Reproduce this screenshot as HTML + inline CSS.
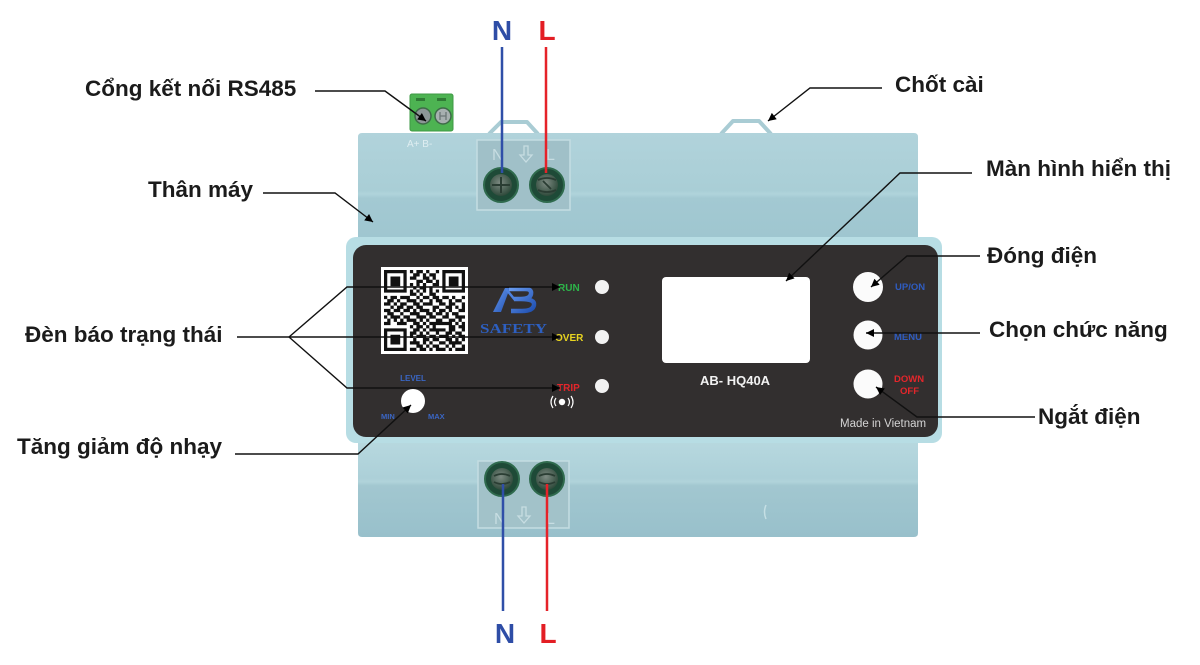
<!DOCTYPE html>
<html><head><meta charset="utf-8"><style>
html,body{margin:0;padding:0;background:#fff;}
svg{display:block;}
.lbl{font-family:"Liberation Sans",Arial,sans-serif;font-weight:bold;font-size:22.5px;fill:#1b1b1b;}
.b{font-family:"Liberation Sans",Arial,sans-serif;font-weight:bold;}
</style></head><body>
<svg width="1200" height="665" viewBox="0 0 1200 665" xmlns="http://www.w3.org/2000/svg">
<defs>
<marker id="ar" viewBox="0 0 10 10" refX="10" refY="5" markerWidth="10" markerHeight="8" markerUnits="userSpaceOnUse" orient="auto">
<path d="M0 0 L10 5 L0 10 z" fill="#000"/></marker>
<linearGradient id="up" x1="0" y1="0" x2="0" y2="1">
<stop offset="0" stop-color="#b1d3db"/><stop offset="0.55" stop-color="#a9ced6"/><stop offset="0.58" stop-color="#b0d4db"/><stop offset="0.62" stop-color="#a3c9d2"/><stop offset="1" stop-color="#9fc6d0"/></linearGradient>
<linearGradient id="lo" x1="0" y1="0" x2="0" y2="1">
<stop offset="0" stop-color="#b7d8df"/><stop offset="0.38" stop-color="#acd0d8"/><stop offset="0.42" stop-color="#b0d3da"/><stop offset="0.46" stop-color="#a2c7d0"/><stop offset="1" stop-color="#98c0cb"/></linearGradient>
<linearGradient id="logo" x1="0" y1="0" x2="1" y2="1">
<stop offset="0" stop-color="#6a9cf0"/><stop offset="1" stop-color="#1f4fb0"/></linearGradient>
<radialGradient id="scr" cx="0.45" cy="0.4" r="0.6">
<stop offset="0" stop-color="#7d8a82"/><stop offset="1" stop-color="#2f4a3b"/></radialGradient>
</defs>
<rect width="1200" height="665" fill="#fff"/>

<!-- latches -->
<path d="M489 134 L501 122 L527 122 L538 134" fill="none" stroke="#a9ccd4" stroke-width="4" stroke-linejoin="round"/>
<path d="M721 134 L733 121 L759 121 L771 134" fill="none" stroke="#a9ccd4" stroke-width="4" stroke-linejoin="round"/>

<!-- RS485 connector -->
<rect x="410" y="94" width="43" height="37" rx="2" fill="#4db352"/>
<rect x="410" y="94" width="43" height="37" rx="2" fill="none" stroke="#3e9944" stroke-width="1"/>
<rect x="416" y="98" width="9" height="3" fill="#2f7a35"/>
<rect x="437" y="98" width="9" height="3" fill="#2f7a35"/>
<circle cx="423" cy="116" r="8" fill="#8c9696" stroke="#3e6b48" stroke-width="1.5"/>
<circle cx="443" cy="116" r="8" fill="#a7b0b0" stroke="#3e6b48" stroke-width="1.5"/>
<path d="M440 112 v8 M446 112 v8 M440 116 h6" stroke="#6b7676" stroke-width="1.3"/>

<!-- upper housing -->
<path d="M358 137 Q358 133 362 133 L914 133 Q918 133 918 137 L918 238 L358 238 Z" fill="url(#up)"/>
<text x="407" y="147" font-family="Liberation Sans,Arial,sans-serif" font-size="10" fill="#dfeef1">A+ B-</text>
<!-- top terminal recess -->
<rect x="477" y="140" width="93" height="70" fill="#a0c0c8" stroke="#c4dde2" stroke-width="1.5"/>
<text x="492" y="160" font-family="Liberation Sans,Arial,sans-serif" font-size="16" fill="#c7dde2">N</text>
<text x="546" y="160" font-family="Liberation Sans,Arial,sans-serif" font-size="16" fill="#c7dde2">L</text>
<path d="M524 146 v9 h-4 l6 7 l6 -7 h-4 v-9 z" fill="none" stroke="#c7dde2" stroke-width="1.3"/>
<circle cx="501" cy="185" r="17" fill="#1e4a37" stroke="#2f6a4d" stroke-width="2"/>
<circle cx="501" cy="185" r="11" fill="url(#scr)"/>
<path d="M492 185 h18 M501 177 v16" stroke="#2a3d33" stroke-width="2"/>
<circle cx="547" cy="185" r="17" fill="#1e4a37" stroke="#2f6a4d" stroke-width="2"/>
<circle cx="547" cy="185" r="11" fill="url(#scr)"/>
<path d="M538 180 q9 -4 18 0 M538 190 q9 4 18 0 M543 181 l8 8" stroke="#2a3d33" stroke-width="1.8" fill="none"/>

<!-- lower housing -->
<path d="M358 442 L918 442 L918 533 Q918 537 914 537 L362 537 Q358 537 358 533 Z" fill="url(#lo)"/>
<path d="M766 505 q-3 7 0 14" stroke="#c5dfe4" stroke-width="1.5" fill="none"/>
<rect x="478" y="461" width="91" height="67" fill="#a2c2c9" stroke="#c4dde2" stroke-width="1.5"/>
<text x="494" y="524" font-family="Liberation Sans,Arial,sans-serif" font-size="16" fill="#c7dde2">N</text>
<text x="546" y="524" font-family="Liberation Sans,Arial,sans-serif" font-size="16" fill="#c7dde2">L</text>
<path d="M522 507 v9 h-4 l6 7 l6 -7 h-4 v-9 z" fill="none" stroke="#c7dde2" stroke-width="1.3"/>
<circle cx="502" cy="479" r="17" fill="#1e4a37" stroke="#2f6a4d" stroke-width="2"/>
<circle cx="502" cy="479" r="11" fill="url(#scr)"/>
<path d="M494 476 q8 -4 16 0 M494 482 q8 4 16 0" stroke="#2a3d33" stroke-width="1.8" fill="none"/>
<circle cx="547" cy="479" r="17" fill="#1e4a37" stroke="#2f6a4d" stroke-width="2"/>
<circle cx="547" cy="479" r="11" fill="url(#scr)"/>
<path d="M539 476 q8 -4 16 0 M539 482 q8 4 16 0" stroke="#2a3d33" stroke-width="1.8" fill="none"/>

<!-- front frame + panel -->
<rect x="346" y="237" width="596" height="206" rx="10" fill="#b7dde4"/>
<rect x="353" y="245" width="585" height="192" rx="13" fill="#322f2f"/>

<!-- QR -->
<rect x="381" y="267" width="87" height="87" fill="#fff"/>
<g transform="translate(384,270) scale(3.24)">
<path fill="none" stroke="#111" stroke-width="1" d="
M0 0.5h7M8 0.5h1M10 0.5h2M13 0.5h1M16 0.5h1M18 0.5h7
M0 1.5h1M6 1.5h1M9 1.5h2M12 1.5h1M14 1.5h2M18 1.5h1M24 1.5h1
M0 2.5h1M2 2.5h3M6 2.5h1M8 2.5h2M12 2.5h2M15 2.5h1M18 2.5h1M20 2.5h3M24 2.5h1
M0 3.5h1M2 3.5h3M6 3.5h1M10 3.5h2M13 3.5h2M16 3.5h1M18 3.5h1M20 3.5h3M24 3.5h1
M0 4.5h1M2 4.5h3M6 4.5h1M8 4.5h1M10 4.5h1M12 4.5h1M15 4.5h2M18 4.5h1M20 4.5h3M24 4.5h1
M0 5.5h1M6 5.5h1M9 5.5h1M11 5.5h2M14 5.5h1M18 5.5h1M24 5.5h1
M0 6.5h7M8 6.5h1M10 6.5h1M12 6.5h1M14 6.5h1M16 6.5h1M18 6.5h7
M8 7.5h2M11 7.5h1M14 7.5h2
M0 8.5h1M2 8.5h2M5 8.5h3M10 8.5h1M12 8.5h2M15 8.5h2M18 8.5h2M21 8.5h1M24 8.5h1
M1 9.5h2M4 9.5h1M7 9.5h3M11 9.5h1M14 9.5h1M16 9.5h2M20 9.5h1M22 9.5h2
M0 10.5h2M3 10.5h1M5 10.5h2M9 10.5h2M12 10.5h3M17 10.5h2M20 10.5h2M24 10.5h1
M2 11.5h1M4 11.5h2M7 11.5h2M10 11.5h2M15 11.5h2M19 11.5h2M22 11.5h1M24 11.5h1
M0 12.5h2M3 12.5h2M6 12.5h2M9 12.5h1M11 12.5h3M15 12.5h1M17 12.5h2M20 12.5h1M23 12.5h2
M1 13.5h2M5 13.5h1M8 13.5h3M13 13.5h2M16 13.5h2M19 13.5h1M21 13.5h2
M0 14.5h1M2 14.5h3M6 14.5h2M10 14.5h3M14 14.5h2M18 14.5h2M22 14.5h3
M1 15.5h1M3 15.5h1M5 15.5h1M7 15.5h3M11 15.5h1M13 15.5h1M16 15.5h2M20 15.5h2M23 15.5h1
M0 16.5h2M4 16.5h3M9 16.5h2M12 16.5h1M14 16.5h7M22 16.5h1M24 16.5h1
M8 17.5h1M10 17.5h2M13 17.5h1M15 17.5h1M20 17.5h2M23 17.5h2
M0 18.5h7M9 18.5h2M12 18.5h1M14 18.5h5M20 18.5h2M24 18.5h1
M0 19.5h1M6 19.5h1M8 19.5h2M11 19.5h1M13 19.5h1M16 19.5h1M19 19.5h2M22 19.5h2
M0 20.5h1M2 20.5h3M6 20.5h1M8 20.5h1M10 20.5h3M14 20.5h2M17 20.5h3M21 20.5h1M23 20.5h2
M0 21.5h1M2 21.5h3M6 21.5h1M9 21.5h1M12 21.5h2M15 21.5h2M19 21.5h2M22 21.5h1M24 21.5h1
M0 22.5h1M2 22.5h3M6 22.5h1M8 22.5h3M12 22.5h1M14 22.5h1M17 22.5h2M20 22.5h4
M0 23.5h1M6 23.5h1M10 23.5h2M13 23.5h1M15 23.5h2M19 23.5h1M21 23.5h1M24 23.5h1
M0 24.5h7M8 24.5h2M11 24.5h2M14 24.5h1M16 24.5h3M20 24.5h1M22 24.5h3"/>
</g>

<!-- AB logo -->
<path d="M493 312 L501 312 L510 288 L505 288 Z" fill="url(#logo)"/>
<path d="M506 289 L515 300" stroke="#4d82e0" stroke-width="2.5" fill="none"/>
<path d="M509 289 H525 Q532 289 531 294 Q530 299 521 299 H514 M521 299 Q535 299 534 305 Q533 311 522 311 H511" stroke="url(#logo)" stroke-width="4.5" fill="none" stroke-linejoin="round"/>
<text x="480" y="333" font-family="Liberation Serif,'Times New Roman',serif" font-weight="bold" font-size="14" fill="#2d5fc0" textLength="67" lengthAdjust="spacingAndGlyphs">SAFETY</text>

<!-- indicators -->
<text x="558" y="291" class="b" font-size="10" fill="#2db54a">RUN</text>
<text x="555" y="341" class="b" font-size="10" fill="#e8d420">OVER</text>
<text x="557" y="391" class="b" font-size="10" fill="#e3262b">TRIP</text>
<circle cx="602" cy="287" r="7" fill="#f2f2f2"/>
<circle cx="602" cy="337" r="7" fill="#f2f2f2"/>
<circle cx="602" cy="386" r="7" fill="#f2f2f2"/>
<circle cx="562" cy="402" r="3.2" fill="#fff"/>
<path d="M556 398 q-3 4 0 8 M568 398 q3 4 0 8 M553 396 q-4 6 0 12 M571 396 q4 6 0 12" stroke="#fff" stroke-width="1.2" fill="none"/>

<!-- level knob -->
<text x="413" y="381" class="b" font-size="8" fill="#3a66c4" text-anchor="middle">LEVEL</text>
<circle cx="413" cy="401" r="12" fill="#fff"/>
<text x="381" y="419" class="b" font-size="7.5" fill="#3a66c4">MIN</text>
<text x="428" y="419" class="b" font-size="7.5" fill="#3a66c4">MAX</text>

<!-- display -->
<rect x="662" y="277" width="148" height="86" rx="4" fill="#fff"/>
<text x="700" y="385" class="b" font-size="13" fill="#f2f2f2">AB- HQ40A</text>

<!-- buttons -->
<circle cx="868" cy="287" r="15" fill="#fbfbfb"/>
<circle cx="868" cy="335" r="14.5" fill="#fbfbfb"/>
<circle cx="868" cy="384" r="14.5" fill="#fbfbfb"/>
<text x="895" y="290" class="b" font-size="9.5" fill="#2f5cc0">UP/ON</text>
<text x="894" y="340" class="b" font-size="9.5" fill="#2f5cc0">MENU</text>
<text x="894" y="382" class="b" font-size="9.5" fill="#e3262b">DOWN</text>
<text x="900" y="394" class="b" font-size="9.5" fill="#e3262b">OFF</text>
<text x="840" y="427" font-family="Liberation Sans,Arial,sans-serif" font-size="11.5" fill="#d4d4d4">Made in Vietnam</text>

<!-- wires -->
<line x1="502" y1="47" x2="502" y2="173" stroke="#2f4fa8" stroke-width="2.5"/>
<line x1="546" y1="47" x2="546" y2="173" stroke="#e52229" stroke-width="2.5"/>
<line x1="503" y1="484" x2="503" y2="611" stroke="#2f4fa8" stroke-width="2.5"/>
<line x1="547" y1="484" x2="547" y2="611" stroke="#e52229" stroke-width="2.5"/>
<text x="502" y="40" class="b" font-size="28" fill="#2e4da6" text-anchor="middle">N</text>
<text x="547" y="40" class="b" font-size="28" fill="#e31e24" text-anchor="middle">L</text>
<text x="505" y="643" class="b" font-size="28" fill="#2e4da6" text-anchor="middle">N</text>
<text x="548" y="643" class="b" font-size="28" fill="#e31e24" text-anchor="middle">L</text>

<!-- connectors -->
<g fill="none" stroke="#111" stroke-width="1.4">
<path d="M315 91 H385 L426 121" marker-end="url(#ar)"/>
<path d="M263 193 H335 L373 222" marker-end="url(#ar)"/>
<path d="M237 337 H289"/>
<path d="M289 337 L347 287 H560" marker-end="url(#ar)"/>
<path d="M289 337 H560" marker-end="url(#ar)"/>
<path d="M289 337 L347 388 H560" marker-end="url(#ar)"/>
<path d="M235 454 H358 L411 405" marker-end="url(#ar)"/>
<path d="M882 88 H810 L768 121" marker-end="url(#ar)"/>
<path d="M972 173 H900 L786 281" marker-end="url(#ar)"/>
<path d="M980 256 H907 L871 287" marker-end="url(#ar)"/>
<path d="M980 333 H866" marker-end="url(#ar)"/>
<path d="M1035 417 H917 L876 387" marker-end="url(#ar)"/>
</g>

<!-- labels -->
<text x="85" y="96" class="lbl">Cổng kết nối RS485</text>
<text x="148" y="197" class="lbl">Thân máy</text>
<text x="25" y="342" class="lbl">Đèn báo trạng thái</text>
<text x="17" y="454" class="lbl">Tăng giảm độ nhạy</text>
<text x="895" y="92" class="lbl">Chốt cài</text>
<text x="986" y="176" class="lbl">Màn hình hiển thị</text>
<text x="987" y="263" class="lbl">Đóng điện</text>
<text x="989" y="337" class="lbl">Chọn chức năng</text>
<text x="1038" y="424" class="lbl">Ngắt điện</text>
</svg>
</body></html>
